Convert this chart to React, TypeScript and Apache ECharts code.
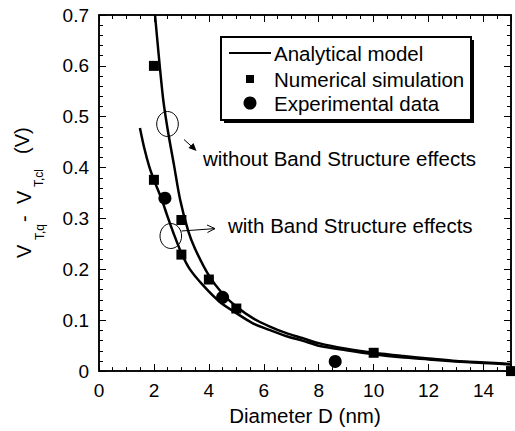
import React, { useEffect, useRef } from "react";
import * as echarts from "echarts";

const xTicks = [0, 2, 4, 6, 8, 10, 12, 14];
const yTicks = [0, 0.1, 0.2, 0.3, 0.4, 0.5, 0.6, 0.7];

const upperD = [2.04, 2.33, 2.5, 2.74, 2.95, 3.25, 3.5, 4.0, 4.5, 5.0, 5.6, 6.2, 6.8, 7.4, 8, 9, 10, 11, 12, 13, 14, 15];
const upperV = [0.7, 0.537, 0.475, 0.402, 0.338, 0.275, 0.24, 0.188, 0.152, 0.127, 0.104, 0.088, 0.075, 0.065, 0.055, 0.044, 0.036, 0.03, 0.025, 0.02, 0.017, 0.014];

const lowerD = [1.49, 1.65, 1.83, 2.0, 2.28, 2.5, 2.7, 3.0, 3.3, 3.8, 4.4, 5.0, 5.6, 6.2, 6.8, 7.4, 8, 9, 10, 11, 12, 13, 14, 15];
const lowerV = [0.478, 0.438, 0.402, 0.376, 0.338, 0.303, 0.273, 0.232, 0.201, 0.168, 0.136, 0.114, 0.094, 0.081, 0.069, 0.06, 0.05, 0.041, 0.033, 0.027, 0.023, 0.019, 0.016, 0.013];

const simD = [2, 2, 3, 3, 4, 5, 10, 15];
const simV = [0.6, 0.376, 0.297, 0.229, 0.18, 0.123, 0.036, 0.0];

const expD = [2.4, 4.5, 8.6];
const expV = [0.34, 0.145, 0.019];

const legendNames = ["Analytical model", "Numerical simulation", "Experimental data"];
const annotations = ["without Band Structure effects", "with Band Structure effects"];

const FONT = "'Liberation Sans', Arial, Helvetica, sans-serif";

const zip = (a: number[], b: number[]) => a.map((v, i) => [v, b[i]]);

export default function App() {
  const ref = useRef<HTMLDivElement>(null);
  useEffect(() => {
    document.body.style.margin = "0";
    if (!ref.current) return;
    const chart = echarts.init(ref.current, null, { renderer: "svg" });
    const black = "#000";
    const tickStyle = { color: black, width: 1 };
    const majorX = {
      type: "value",
      min: 0,
      max: 15,
      interval: 2,
      axisLine: { show: true, onZero: false, lineStyle: { color: black, width: 1.5 } },
      axisTick: { show: true, inside: true, length: 7, lineStyle: tickStyle },
      splitLine: { show: false },
    };
    const minorX = {
      type: "value",
      min: 0,
      max: 15,
      interval: 0.5,
      axisLine: { show: false, onZero: false },
      axisTick: { show: true, inside: true, length: 4, lineStyle: tickStyle },
      axisLabel: { show: false },
      splitLine: { show: false },
    };
    const yBase = {
      type: "value",
      min: 0,
      max: 0.7,
      interval: 0.1,
      axisLine: { show: true, onZero: false, lineStyle: { color: black, width: 1.5 } },
      axisTick: { show: true, inside: true, length: 7, lineStyle: tickStyle },
      minorTick: { show: true, splitNumber: 5, length: 4, lineStyle: tickStyle },
      splitLine: { show: false },
      minorSplitLine: { show: false },
    };
    const txt = (x: number, y: number, text: string, size = 20.5) => ({
      type: "text",
      x,
      y,
      style: { text, fill: black, font: `${size}px ${FONT}`, textVerticalAlign: "middle", verticalAlign: "middle" },
      z: 12,
    });
    const rtxt = (x: number, y: number, text: string, size: number) => ({
      type: "text",
      x,
      y,
      rotation: Math.PI / 2,
      style: { text, fill: black, font: `${size}px ${FONT}`, textVerticalAlign: "middle", verticalAlign: "middle", align: "left" },
      z: 12,
    });
    const option: any = {
      animation: false,
      backgroundColor: "#fff",
      grid: { left: 99, right: 4, top: 15, bottom: 58, show: true, borderColor: black, borderWidth: 1.5, backgroundColor: "transparent" },
      xAxis: [
        {
          ...majorX,
          position: "bottom",
          name: "Diameter D (nm)",
          nameLocation: "middle",
          nameGap: 33,
          nameTextStyle: { color: black, fontSize: 20.5, fontFamily: FONT },
          axisLabel: {
            show: true,
            color: black,
            fontSize: 19,
            fontFamily: FONT,
            margin: 10,
            formatter: (v: number) => (xTicks.includes(v) ? String(v) : ""),
          },
        },
        { ...minorX, position: "bottom" },
        { ...majorX, position: "top", axisLabel: { show: false } },
        { ...minorX, position: "top" },
      ],
      yAxis: [
        {
          ...yBase,
          position: "left",
          axisLabel: {
            show: true,
            color: black,
            fontSize: 19,
            fontFamily: FONT,
            margin: 10,
            formatter: (v: number) => {
              const t = yTicks.find((y) => Math.abs(y - v) < 1e-6);
              if (t === undefined) return "";
              return t === 0 ? "0" : t.toFixed(1);
            },
          },
        },
        { ...yBase, position: "right", axisLabel: { show: false } },
      ],
      series: [
        {
          name: legendNames[0],
          type: "line",
          data: zip(upperD, upperV),
          showSymbol: false,
          smooth: 0.3,
          lineStyle: { color: black, width: 2.5 },
          z: 3,
        },
        {
          name: legendNames[0] + " (BS)",
          type: "line",
          data: zip(lowerD, lowerV),
          showSymbol: false,
          smooth: 0.3,
          lineStyle: { color: black, width: 2.5 },
          z: 3,
        },
        {
          name: legendNames[1],
          type: "scatter",
          data: zip(simD, simV),
          symbol: "rect",
          symbolSize: 10,
          itemStyle: { color: black, opacity: 1 },
          clip: false,
          z: 4,
        },
        {
          name: legendNames[2],
          type: "scatter",
          data: zip(expD, expV),
          symbol: "circle",
          symbolSize: 13,
          itemStyle: { color: black, opacity: 1 },
          clip: false,
          z: 4,
        },
      ],
      graphic: [
        { type: "rect", shape: { x: 224, y: 40, width: 250, height: 83 }, style: { fill: black }, z: 10 },
        { type: "rect", shape: { x: 221, y: 37, width: 250, height: 83 }, style: { fill: "#fff", stroke: black, lineWidth: 2 }, z: 11 },
        { type: "line", shape: { x1: 229, y1: 53, x2: 271, y2: 53 }, style: { stroke: black, lineWidth: 2 }, z: 12 },
        { type: "rect", shape: { x: 246, y: 75, width: 8, height: 8 }, style: { fill: black }, z: 12 },
        { type: "circle", shape: { cx: 250, cy: 103, r: 6.5 }, style: { fill: black }, z: 12 },
        txt(274, 53, legendNames[0]),
        txt(274, 79, legendNames[1]),
        txt(274, 103, legendNames[2]),
        { type: "ellipse", shape: { cx: 167.5, cy: 124, rx: 10.8, ry: 12.5 }, style: { fill: "none", stroke: black, lineWidth: 1 }, z: 12 },
        { type: "ellipse", shape: { cx: 170.8, cy: 236, rx: 10.8, ry: 12.5 }, style: { fill: "none", stroke: black, lineWidth: 1 }, z: 12 },
        { type: "line", shape: { x1: 184, y1: 139.5, x2: 195, y2: 149.5 }, style: { stroke: black, lineWidth: 1 }, z: 12 },
        { type: "polygon", shape: { points: [[196.5, 151], [188.5, 148], [193.5, 143]] }, style: { fill: black }, z: 12 },
        { type: "line", shape: { x1: 181.5, y1: 231, x2: 215, y2: 228.6 }, style: { stroke: black, lineWidth: 1 }, z: 12 },
        { type: "polyline", shape: { points: [[207, 225], [215, 228.6], [207.5, 232.5]] }, style: { stroke: black, fill: "none", lineWidth: 1 }, z: 12 },
        txt(203, 158, annotations[0]),
        txt(228, 225, annotations[1]),
        rtxt(23.5, 258, "V", 20),
        rtxt(40, 240, "T,q", 12),
        rtxt(23.5, 222, "-", 20),
        rtxt(23.5, 204, "V", 20),
        rtxt(39, 187, "T,cl", 12),
        rtxt(22, 154, "(V)", 20),
      ],
    };
    chart.setOption(option);
    return () => chart.dispose();
  }, []);
  return <div ref={ref} style={{ width: 515, height: 431 }} />;
}
